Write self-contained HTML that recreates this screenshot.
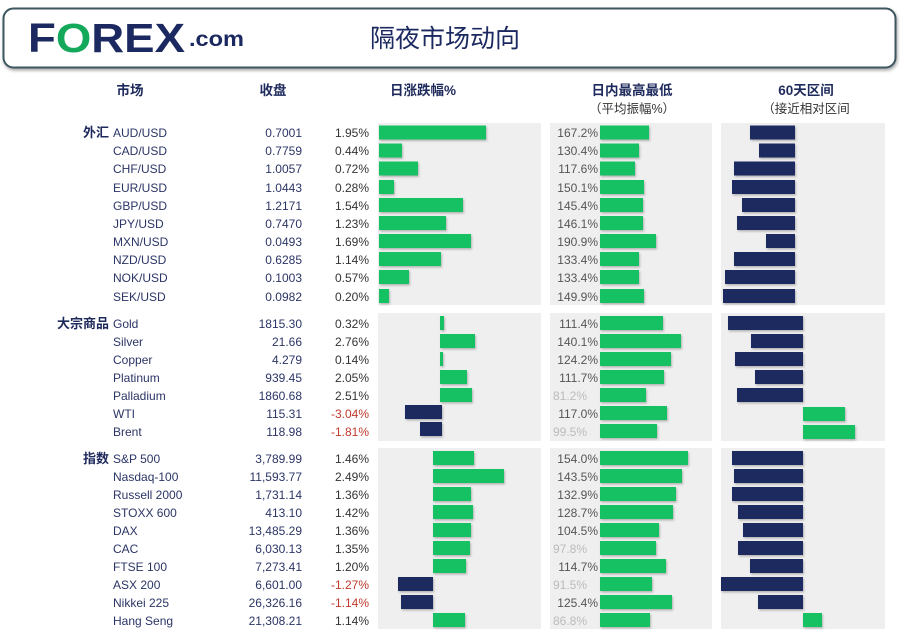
<!DOCTYPE html>
<html><head><meta charset="utf-8"><style>
body{margin:0;background:#fff;}
svg{display:block;font-family:"Liberation Sans","Noto Sans CJK SC",sans-serif;}
.n{fill:#2b3566;font-size:12px;}
.c{fill:#2b3566;font-size:12px;text-anchor:end;}
.p{fill:#333;font-size:12px;text-anchor:end;}
.r{fill:#c0392b;font-size:12px;text-anchor:end;}
.v{fill:#555;font-size:12px;text-anchor:end;}
.l{fill:#bbb;font-size:12px;}
.k{fill:#1f2a5c;font-size:13px;font-weight:bold;text-anchor:end;}
.h{fill:#1f2a5c;font-size:13.5px;font-weight:bold;text-anchor:middle;}
.s{fill:#333;font-size:12.5px;text-anchor:middle;}
.g{fill:#13c163;}
.b{fill:#1b2960;}
.bg{fill:#efefef;}
</style></head><body>
<svg width="903" height="637" viewBox="0 0 903 637" xmlns="http://www.w3.org/2000/svg">
<defs><filter id="sh" x="-5%" y="-20%" width="110%" height="150%"><feDropShadow dx="1" dy="2" stdDeviation="1.5" flood-color="#000" flood-opacity="0.35"/></filter>
<filter id="bs" x="-10%" y="-20%" width="130%" height="160%"><feDropShadow dx="1" dy="1.5" stdDeviation="1" flood-color="#000" flood-opacity="0.25"/></filter></defs>
<rect x="3.5" y="8.5" width="892" height="59" rx="10" fill="#fff" stroke="#3d5660" stroke-width="2" filter="url(#sh)"/>
<text x="28" y="52" font-size="41" font-weight="bold" fill="#1b2960" textLength="157" lengthAdjust="spacingAndGlyphs">F<tspan fill="#13a85a">O</tspan>REX</text>
<text x="189" y="46" font-size="21" font-weight="bold" fill="#1b2960" textLength="55" lengthAdjust="spacingAndGlyphs">.com</text>
<text x="370" y="47" font-size="25" fill="#1b2960">隔夜市场动向</text>
<text class="h" x="130" y="95">市场</text>
<text class="h" x="273" y="95">收盘</text>
<text class="h" x="423" y="95">日涨跌幅%</text>
<text class="h" x="632" y="95">日内最高最低</text>
<text class="s" x="632" y="113">（平均振幅%）</text>
<text class="h" x="806" y="95">60天区间</text>
<text class="s" x="806" y="113">（接近相对区间</text>
<!-- panels -->
<rect class="bg" x="378" y="123" width="163" height="182"/>
<rect class="bg" x="550" y="123" width="162" height="182"/>
<rect class="bg" x="721" y="123" width="164" height="182"/>
<rect class="bg" x="378" y="313" width="163" height="128"/>
<rect class="bg" x="550" y="313" width="162" height="128"/>
<rect class="bg" x="721" y="313" width="164" height="128"/>
<rect class="bg" x="378" y="448" width="163" height="181"/>
<rect class="bg" x="550" y="448" width="162" height="181"/>
<rect class="bg" x="721" y="448" width="164" height="181"/>
<text class="k" x="109" y="137">外汇</text>
<text class="k" x="109" y="328">大宗商品</text>
<text class="k" x="109" y="463">指数</text>
<!-- FX -->
<g filter="url(#bs)">
<rect class="g" x="379" y="125.5" width="107" height="14"/>
<rect class="g" x="379" y="143.5" width="23" height="14"/>
<rect class="g" x="379" y="161.5" width="39" height="14"/>
<rect class="g" x="379" y="180" width="15" height="14"/>
<rect class="g" x="379" y="198" width="84" height="14"/>
<rect class="g" x="379" y="216" width="67" height="14"/>
<rect class="g" x="379" y="234" width="92" height="14"/>
<rect class="g" x="379" y="252" width="62" height="14"/>
<rect class="g" x="379" y="270" width="30" height="14"/>
<rect class="g" x="379" y="289" width="10" height="14"/>
<rect class="g" x="600" y="125.5" width="49" height="14"/>
<rect class="g" x="600" y="143.5" width="39" height="14"/>
<rect class="g" x="600" y="161.5" width="35" height="14"/>
<rect class="g" x="600" y="180" width="44" height="14"/>
<rect class="g" x="600" y="198" width="43" height="14"/>
<rect class="g" x="600" y="216" width="43" height="14"/>
<rect class="g" x="600" y="234" width="56" height="14"/>
<rect class="g" x="600" y="252" width="39" height="14"/>
<rect class="g" x="600" y="270" width="39" height="14"/>
<rect class="g" x="600" y="289" width="44" height="14"/>
<rect class="b" x="750" y="125.5" width="45" height="14"/>
<rect class="b" x="759" y="143.5" width="36" height="14"/>
<rect class="b" x="734" y="161.5" width="61" height="14"/>
<rect class="b" x="732" y="180" width="63" height="14"/>
<rect class="b" x="742" y="198" width="53" height="14"/>
<rect class="b" x="737" y="216" width="58" height="14"/>
<rect class="b" x="766" y="234" width="29" height="14"/>
<rect class="b" x="734" y="252" width="61" height="14"/>
<rect class="b" x="725" y="270" width="70" height="14"/>
<rect class="b" x="723" y="289" width="72" height="14"/>
<!-- commodities -->
<rect class="g" x="440" y="316" width="4" height="14"/>
<rect class="g" x="440" y="334" width="35" height="14"/>
<rect class="g" x="440" y="352" width="3" height="14"/>
<rect class="g" x="440" y="370" width="27" height="14"/>
<rect class="g" x="440" y="388" width="32" height="14"/>
<rect class="b" x="405" y="405" width="37" height="14"/>
<rect class="b" x="420" y="422" width="22" height="14"/>
<rect class="g" x="600" y="316" width="63" height="14"/>
<rect class="g" x="600" y="334" width="81" height="14"/>
<rect class="g" x="600" y="352" width="71" height="14"/>
<rect class="g" x="600" y="370" width="64" height="14"/>
<rect class="g" x="600" y="388" width="46" height="14"/>
<rect class="g" x="600" y="406" width="67" height="14"/>
<rect class="g" x="600" y="424" width="57" height="14"/>
<rect class="b" x="728" y="316" width="75" height="14"/>
<rect class="b" x="751" y="334" width="52" height="14"/>
<rect class="b" x="735" y="352" width="68" height="14"/>
<rect class="b" x="755" y="370" width="48" height="14"/>
<rect class="b" x="737" y="388" width="66" height="14"/>
<rect class="g" x="803" y="407" width="42" height="14"/>
<rect class="g" x="803" y="425" width="52" height="14"/>
<!-- indices -->
<rect class="g" x="433" y="451" width="41" height="14"/>
<rect class="g" x="433" y="469" width="71" height="14"/>
<rect class="g" x="433" y="487" width="38" height="14"/>
<rect class="g" x="433" y="505" width="40" height="14"/>
<rect class="g" x="433" y="523" width="38" height="14"/>
<rect class="g" x="433" y="541" width="37" height="14"/>
<rect class="g" x="433" y="559" width="33" height="14"/>
<rect class="b" x="398" y="577" width="35" height="14"/>
<rect class="b" x="401" y="595" width="32" height="14"/>
<rect class="g" x="433" y="613" width="32" height="14"/>
<rect class="g" x="600" y="451" width="88" height="14"/>
<rect class="g" x="600" y="469" width="82" height="14"/>
<rect class="g" x="600" y="487" width="76" height="14"/>
<rect class="g" x="600" y="505" width="73" height="14"/>
<rect class="g" x="600" y="523" width="59" height="14"/>
<rect class="g" x="600" y="541" width="56" height="14"/>
<rect class="g" x="600" y="559" width="66" height="14"/>
<rect class="g" x="600" y="577" width="52" height="14"/>
<rect class="g" x="600" y="595" width="72" height="14"/>
<rect class="g" x="600" y="613" width="50" height="14"/>
<rect class="b" x="732" y="451" width="71" height="14"/>
<rect class="b" x="734" y="469" width="69" height="14"/>
<rect class="b" x="732" y="487" width="71" height="14"/>
<rect class="b" x="738" y="505" width="65" height="14"/>
<rect class="b" x="743" y="523" width="60" height="14"/>
<rect class="b" x="738" y="541" width="65" height="14"/>
<rect class="b" x="750" y="559" width="53" height="14"/>
<rect class="b" x="721" y="577" width="82" height="14"/>
<rect class="b" x="758" y="595" width="45" height="14"/>
<rect class="g" x="803" y="613" width="19" height="14"/>
</g>
<!-- FX text -->
<text class="n" x="113" y="137">AUD/USD</text><text class="c" x="302" y="137">0.7001</text><text class="p" x="369" y="137">1.95%</text><text class="v" x="598" y="137">167.2%</text>
<text class="n" x="113" y="155">CAD/USD</text><text class="c" x="302" y="155">0.7759</text><text class="p" x="369" y="155">0.44%</text><text class="v" x="598" y="155">130.4%</text>
<text class="n" x="113" y="173">CHF/USD</text><text class="c" x="302" y="173">1.0057</text><text class="p" x="369" y="173">0.72%</text><text class="v" x="598" y="173">117.6%</text>
<text class="n" x="113" y="192">EUR/USD</text><text class="c" x="302" y="192">1.0443</text><text class="p" x="369" y="192">0.28%</text><text class="v" x="598" y="192">150.1%</text>
<text class="n" x="113" y="210">GBP/USD</text><text class="c" x="302" y="210">1.2171</text><text class="p" x="369" y="210">1.54%</text><text class="v" x="598" y="210">145.4%</text>
<text class="n" x="113" y="228">JPY/USD</text><text class="c" x="302" y="228">0.7470</text><text class="p" x="369" y="228">1.23%</text><text class="v" x="598" y="228">146.1%</text>
<text class="n" x="113" y="246">MXN/USD</text><text class="c" x="302" y="246">0.0493</text><text class="p" x="369" y="246">1.69%</text><text class="v" x="598" y="246">190.9%</text>
<text class="n" x="113" y="264">NZD/USD</text><text class="c" x="302" y="264">0.6285</text><text class="p" x="369" y="264">1.14%</text><text class="v" x="598" y="264">133.4%</text>
<text class="n" x="113" y="282">NOK/USD</text><text class="c" x="302" y="282">0.1003</text><text class="p" x="369" y="282">0.57%</text><text class="v" x="598" y="282">133.4%</text>
<text class="n" x="113" y="301">SEK/USD</text><text class="c" x="302" y="301">0.0982</text><text class="p" x="369" y="301">0.20%</text><text class="v" x="598" y="301">149.9%</text>
<!-- commodities text -->
<text class="n" x="113" y="328">Gold</text><text class="c" x="302" y="328">1815.30</text><text class="p" x="369" y="328">0.32%</text><text class="v" x="598" y="328">111.4%</text>
<text class="n" x="113" y="346">Silver</text><text class="c" x="302" y="346">21.66</text><text class="p" x="369" y="346">2.76%</text><text class="v" x="598" y="346">140.1%</text>
<text class="n" x="113" y="364">Copper</text><text class="c" x="302" y="364">4.279</text><text class="p" x="369" y="364">0.14%</text><text class="v" x="598" y="364">124.2%</text>
<text class="n" x="113" y="382">Platinum</text><text class="c" x="302" y="382">939.45</text><text class="p" x="369" y="382">2.05%</text><text class="v" x="598" y="382">111.7%</text>
<text class="n" x="113" y="400">Palladium</text><text class="c" x="302" y="400">1860.68</text><text class="p" x="369" y="400">2.51%</text><text class="l" x="553" y="400">81.2%</text>
<text class="n" x="113" y="418">WTI</text><text class="c" x="302" y="418">115.31</text><text class="r" x="369" y="418">-3.04%</text><text class="v" x="598" y="418">117.0%</text>
<text class="n" x="113" y="436">Brent</text><text class="c" x="302" y="436">118.98</text><text class="r" x="369" y="436">-1.81%</text><text class="l" x="553" y="436">99.5%</text>
<!-- indices text -->
<text class="n" x="113" y="463">S&amp;P 500</text><text class="c" x="302" y="463">3,789.99</text><text class="p" x="369" y="463">1.46%</text><text class="v" x="598" y="463">154.0%</text>
<text class="n" x="113" y="481">Nasdaq-100</text><text class="c" x="302" y="481">11,593.77</text><text class="p" x="369" y="481">2.49%</text><text class="v" x="598" y="481">143.5%</text>
<text class="n" x="113" y="499">Russell 2000</text><text class="c" x="302" y="499">1,731.14</text><text class="p" x="369" y="499">1.36%</text><text class="v" x="598" y="499">132.9%</text>
<text class="n" x="113" y="517">STOXX 600</text><text class="c" x="302" y="517">413.10</text><text class="p" x="369" y="517">1.42%</text><text class="v" x="598" y="517">128.7%</text>
<text class="n" x="113" y="535">DAX</text><text class="c" x="302" y="535">13,485.29</text><text class="p" x="369" y="535">1.36%</text><text class="v" x="598" y="535">104.5%</text>
<text class="n" x="113" y="553">CAC</text><text class="c" x="302" y="553">6,030.13</text><text class="p" x="369" y="553">1.35%</text><text class="l" x="553" y="553">97.8%</text>
<text class="n" x="113" y="571">FTSE 100</text><text class="c" x="302" y="571">7,273.41</text><text class="p" x="369" y="571">1.20%</text><text class="v" x="598" y="571">114.7%</text>
<text class="n" x="113" y="589">ASX 200</text><text class="c" x="302" y="589">6,601.00</text><text class="r" x="369" y="589">-1.27%</text><text class="l" x="553" y="589">91.5%</text>
<text class="n" x="113" y="607">Nikkei 225</text><text class="c" x="302" y="607">26,326.16</text><text class="r" x="369" y="607">-1.14%</text><text class="v" x="598" y="607">125.4%</text>
<text class="n" x="113" y="625">Hang Seng</text><text class="c" x="302" y="625">21,308.21</text><text class="p" x="369" y="625">1.14%</text><text class="l" x="553" y="625">86.8%</text>
</svg>
</body></html>
